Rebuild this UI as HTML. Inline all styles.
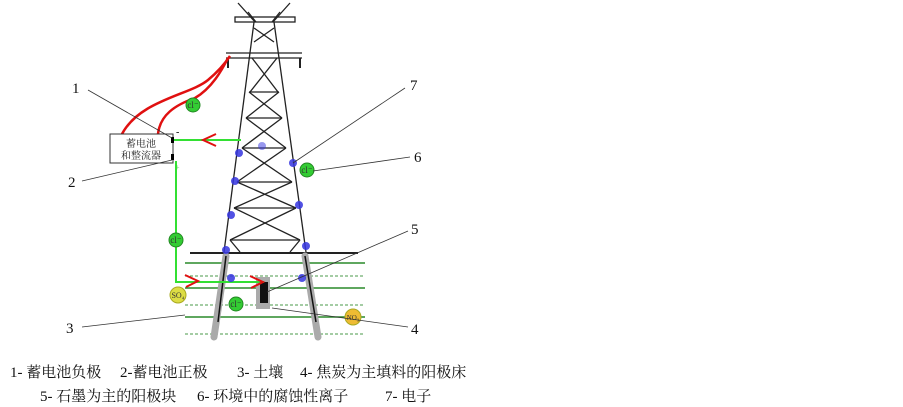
<!DOCTYPE html>
<html><head><meta charset="utf-8"><style>
body{margin:0;background:#fff;width:903px;height:407px;overflow:hidden}
.t{position:absolute;font-family:"Liberation Serif","Noto Serif CJK SC",serif;font-size:15px;line-height:18px;color:#111;white-space:pre}
</style></head><body>
<svg width="903" height="407" style="position:absolute;left:0;top:0" font-family="Liberation Serif, Noto Serif CJK SC, serif">
<g stroke="#222" stroke-width="1.3" fill="none">
<line x1="238" y1="3" x2="255" y2="22"/><line x1="290" y1="3" x2="273" y2="22"/>
<line x1="248" y1="12" x2="256" y2="22"/><line x1="280" y1="12" x2="272" y2="22"/>
<rect x="235" y="17" width="60" height="5"/>
<line x1="254" y1="22" x2="224" y2="252"/><line x1="274" y1="22" x2="306" y2="252"/>
<line x1="254" y1="28" x2="274" y2="42"/><line x1="274" y1="28" x2="254" y2="42"/>
<line x1="226" y1="53" x2="302" y2="53"/><line x1="226" y1="58" x2="302" y2="58"/>
<line x1="228" y1="58" x2="228" y2="68" stroke-width="2"/><line x1="300" y1="58" x2="300" y2="68" stroke-width="2"/>
<line x1="252" y1="58" x2="278" y2="92"/><line x1="277" y1="58" x2="250" y2="92"/>
<line x1="249" y1="92" x2="279" y2="92"/>
<line x1="249" y1="92" x2="282" y2="118"/><line x1="279" y1="92" x2="246" y2="118"/>
<line x1="246" y1="118" x2="282" y2="118"/>
<line x1="246" y1="118" x2="286" y2="148"/><line x1="282" y1="118" x2="242" y2="148"/>
<line x1="242" y1="148" x2="286" y2="148"/>
<line x1="242" y1="148" x2="292" y2="182"/><line x1="286" y1="148" x2="237" y2="182"/>
<line x1="237" y1="182" x2="292" y2="182"/>
<line x1="237" y1="182" x2="296" y2="208"/><line x1="292" y1="182" x2="234" y2="208"/>
<line x1="234" y1="208" x2="296" y2="208"/>
<line x1="234" y1="208" x2="300" y2="240"/><line x1="296" y1="208" x2="230" y2="240"/>
<line x1="230" y1="240" x2="300" y2="240"/>
<line x1="230" y1="240" x2="240" y2="252"/><line x1="300" y1="240" x2="290" y2="252"/>
<line x1="190" y1="253" x2="358" y2="253" stroke-width="2"/>
</g>
<g stroke="#2a8a2a" stroke-width="1.5">
<line x1="185" y1="263" x2="365" y2="263"/>
<line x1="185" y1="288" x2="365" y2="288"/>
<line x1="185" y1="317" x2="365" y2="317"/>
</g>
<g stroke="#4a9a4a" stroke-width="1" stroke-dasharray="3 2">
<line x1="185" y1="276" x2="365" y2="276"/>
<line x1="185" y1="305" x2="365" y2="305"/>
<line x1="185" y1="334" x2="365" y2="334"/>
</g>
<line x1="226" y1="256" x2="214" y2="337" stroke="#aaa" stroke-width="7" stroke-linecap="round"/>
<line x1="305" y1="256" x2="318" y2="337" stroke="#aaa" stroke-width="7" stroke-linecap="round"/>
<line x1="226" y1="256" x2="218" y2="322" stroke="#111" stroke-width="1.5"/>
<line x1="305" y1="256" x2="316" y2="322" stroke="#111" stroke-width="1.5"/>
<rect x="256" y="277" width="14" height="32" fill="#aaa"/>
<rect x="260" y="282" width="8" height="21" fill="#111"/>
<g stroke="#e01010" stroke-width="2.5" fill="none">
<path d="M122,134 C140,100 190,95 208,80 C220,70 226,62 230,56"/>
<path d="M158,134 C160,115 175,105 195,98 C212,88 222,70 228,58"/>
</g>
<rect x="110" y="134" width="63" height="29" fill="#fff" stroke="#333"/>
<rect x="171" y="137" width="3" height="6" fill="#000"/><rect x="171" y="154" width="3" height="6" fill="#000"/>
<text x="141" y="147" font-size="10" text-anchor="middle" fill="#222">蓄电池</text>
<text x="141" y="159" font-size="10" text-anchor="middle" fill="#222">和整流器</text>
<text x="176" y="135" font-size="10">-</text>
<text x="175" y="170" font-size="8" fill="#8c8">+</text>
<g stroke="#33e033" stroke-width="2" fill="none">
<path d="M174,140 H241"/>
<path d="M176,161 V282 H264"/>
</g>
<g stroke="#e01010" stroke-width="2" fill="none">
<path d="M216,134 L203,140 L216,146"/>
<path d="M185,275 L198,281 L186,287"/>
<path d="M250,276 L263,282 L251,288"/>
</g>
<g fill="#3535e0" opacity="0.85">
<circle cx="239" cy="153" r="4"/><circle cx="262" cy="146" r="4" opacity="0.6"/>
<circle cx="293" cy="163" r="4"/><circle cx="235" cy="181" r="4"/>
<circle cx="299" cy="205" r="4"/><circle cx="231" cy="215" r="4"/>
<circle cx="306" cy="246" r="4"/><circle cx="226" cy="250" r="4"/>
<circle cx="231" cy="278" r="4"/><circle cx="302" cy="278" r="4"/>
</g>
<g font-size="9" text-anchor="middle" fill="#333">
<circle cx="193" cy="105" r="7" fill="#3c3" stroke="#282"/><text x="193" y="108">cl⁻</text>
<circle cx="307" cy="170" r="7" fill="#3c3" stroke="#282"/><text x="307" y="173">cl⁻</text>
<circle cx="176" cy="240" r="7" fill="#3c3" stroke="#282"/><text x="176" y="243">cl⁻</text>
<circle cx="236" cy="304" r="7" fill="#3c3" stroke="#282"/><text x="236" y="307">cl⁻</text>
<circle cx="178" cy="295" r="8" fill="#dd4" stroke="#aa2"/><text x="178" y="298" font-size="8">SO₄</text>
<circle cx="353" cy="317" r="8" fill="#eb3" stroke="#aa2"/><text x="353" y="320" font-size="7">NO₃</text>
</g>
<g stroke="#333" stroke-width="0.8">
<line x1="88" y1="90" x2="172" y2="138"/>
<line x1="82" y1="181" x2="172" y2="160"/>
<line x1="82" y1="327" x2="185" y2="315"/>
<line x1="408" y1="327" x2="272" y2="308"/>
<line x1="408" y1="231" x2="267" y2="292"/>
<line x1="410" y1="157" x2="313" y2="171"/>
<line x1="405" y1="88" x2="293" y2="163"/>
</g>
<g font-size="15" fill="#111">
<text x="72" y="93">1</text><text x="68" y="187">2</text><text x="66" y="333">3</text>
<text x="411" y="334">4</text><text x="411" y="234">5</text><text x="414" y="162">6</text><text x="410" y="90">7</text>
</g>
</svg>
<div class="t" style="left:10px;top:364px">1- 蓄电池负极</div>
<div class="t" style="left:120px;top:364px">2-蓄电池正极</div>
<div class="t" style="left:237px;top:364px">3- 土壤</div>
<div class="t" style="left:300px;top:364px">4- 焦炭为主填料的阳极床</div>
<div class="t" style="left:40px;top:388px">5- 石墨为主的阳极块</div>
<div class="t" style="left:197px;top:388px">6- 环境中的腐蚀性离子</div>
<div class="t" style="left:385px;top:388px">7- 电子</div>
</body></html>
